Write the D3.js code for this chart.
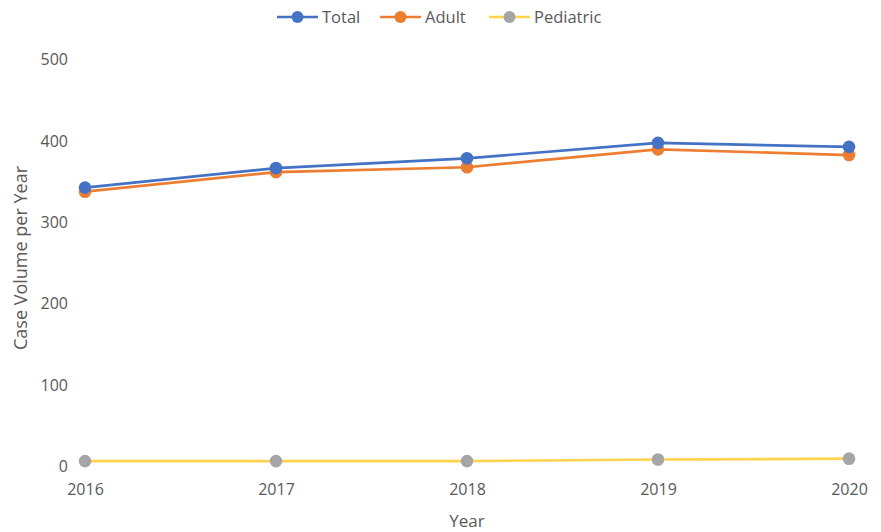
<!DOCTYPE html>
<html><head><meta charset="utf-8">
<script src="https://cdn.jsdelivr.net/npm/d3@7"></script>
<style>body{margin:0;background:#fff}svg{display:block}text{font-family:"Open Sans",Calibri,sans-serif;fill:#595959}</style>
</head><body><svg id="c" width="881" height="532"></svg>
<script>
const years = ["2016","2017","2018","2019","2020"];
const total = [342, 366, 378, 397, 392];
const adult = [337, 361, 367, 389, 382];
const pediatric = [6, 6, 6, 8, 9];
const yTicks = [0, 100, 200, 300, 400, 500];
const seriesNames = ["Total", "Adult", "Pediatric"];
const lineColors = ["#4472C4", "#ED7D31", "#FFD34D"];
const markerColors = ["#4472C4", "#ED7D31", "#A5A5A5"];

const svg = d3.select("#c");
const x = d3.scalePoint().domain(years).range([85, 849]);
const y = d3.scaleLinear().domain([0, 500]).range([466, 59]);

// y axis
const ya = svg.append("g").attr("transform", "translate(68,0)")
  .call(d3.axisLeft(y).tickValues(yTicks).tickSize(0).tickPadding(0));
ya.select(".domain").remove();
ya.selectAll("text").style("font-size", "16px").attr("fill", "#595959").attr("dy", "0.35em").attr("x", 0);

// x axis
const xa = svg.append("g").attr("transform", "translate(0,482)")
  .call(d3.axisBottom(x).tickSize(0).tickPadding(0));
xa.select(".domain").remove();
xa.selectAll("text").style("font-size", "16px").attr("fill", "#595959").attr("dy", "0.8em");

svg.append("text").attr("x", 467).attr("y", 527).attr("text-anchor", "middle")
  .style("font-size", "17px").text("Year");
svg.append("text").attr("transform", "translate(27,258) rotate(-90)").attr("text-anchor", "middle")
  .style("font-size", "18px").text("Case Volume per Year");

const data = [total, adult, pediatric];
const line = d3.line().x((d, i) => x(years[i])).y(d => y(d));
[2, 1, 0].forEach(s => {
  svg.append("path").datum(data[s]).attr("d", line).attr("fill", "none")
    .attr("stroke", lineColors[s]).attr("stroke-width", 2.7);
  svg.selectAll(null).data(data[s]).enter().append("circle")
    .attr("cx", (d, i) => x(years[i])).attr("cy", d => y(d)).attr("r", 6.3)
    .attr("fill", markerColors[s]);
});

// legend
const lx = [277, 380, 489];
seriesNames.forEach((n, s) => {
  const g = svg.append("g").attr("transform", `translate(${lx[s]},17)`);
  g.append("line").attr("x1", 0).attr("x2", 41).attr("stroke", lineColors[s]).attr("stroke-width", 2.7);
  g.append("circle").attr("cx", 20.5).attr("r", 6).attr("fill", markerColors[s]);
  g.append("text").attr("x", 45).attr("dy", "0.35em").style("font-size", "16.5px").text(n);
});
</script></body></html>
